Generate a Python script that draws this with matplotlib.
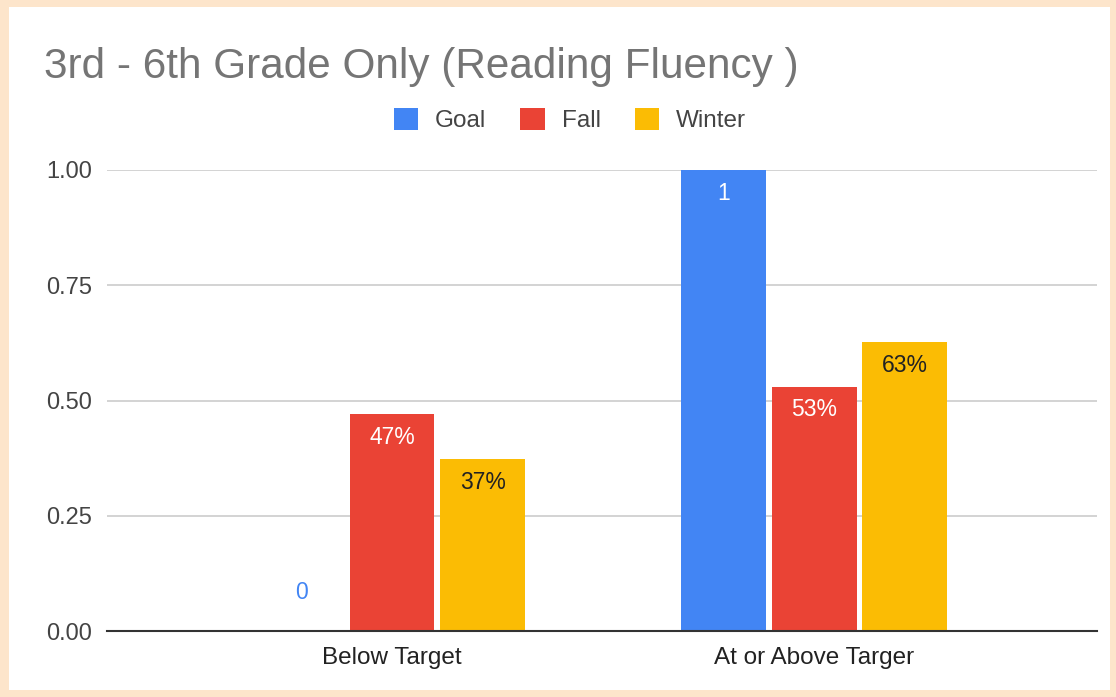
import matplotlib.pyplot as plt
import numpy as np
from matplotlib.patches import Rectangle, Patch

categories = ["Below Target", "At or Above Targer"]
series = ["Goal", "Fall", "Winter"]
goal = [0, 1]
fall = [0.47, 0.53]
winter = [0.373, 0.627]
labels_goal = ["0", "1"]
labels_fall = ["47%", "53%"]
labels_winter = ["37%", "63%"]
colors = ["#4285f4", "#ea4335", "#fbbc04"]

plt.rcParams["font.family"] = ["Liberation Sans", "DejaVu Sans"]

W, H = 1116, 697
fig = plt.figure(figsize=(W / 100, H / 100), dpi=100, facecolor="#fde5cb")
fig.patches.append(Rectangle((9 / W, 7 / H), (1110 - 9) / W, (690 - 7) / H,
                             transform=fig.transFigure, facecolor="white",
                             edgecolor="none", zorder=-1))

ax = fig.add_axes([107 / W, (H - 631) / H, (1097 - 107) / W, (631 - 170) / H])
ax.set_facecolor("none")
ax.set_zorder(2)

x = np.arange(len(categories))
width = 0.201
step = 0.215
data = [goal, fall, winter]
texts = [labels_goal, labels_fall, labels_winter]
txt_colors = ["white", "white", "#222222"]

for i, (vals, labs) in enumerate(zip(data, texts)):
    pos = x + (i - 1) * step
    ax.bar(pos, vals, width=width, color=colors[i], zorder=3)
    for p, v, lab in zip(pos, vals, labs):
        if v == 0:
            ax.text(p, 0.083, lab, ha="center", va="center", fontsize=16.5,
                    color=colors[0], zorder=4)
        else:
            ax.text(p, v - 0.05, lab, ha="center", va="center", fontsize=16.5,
                    color=txt_colors[i], zorder=4)

ax.set_xlim(-0.675, 1.67)
ax.set_ylim(0, 1.0)
ax.set_yticks([0, 0.25, 0.5, 0.75, 1.0])
ax.set_yticklabels(["0.00", "0.25", "0.50", "0.75", "1.00"])
ax.set_xticks(x)
ax.set_xticklabels(categories)
ax.tick_params(axis="both", length=0, colors="#444444")
ax.tick_params(axis="x", pad=11.5, labelsize=17.5, labelcolor="#222222")
ax.tick_params(axis="y", pad=10.8, labelsize=17)
ax.grid(axis="y", color="#cccccc", linewidth=1.2, zorder=0)
ax.set_axisbelow(True)
for s in ["top", "right", "left"]:
    ax.spines[s].set_visible(False)
ax.spines["bottom"].set_color("#333333")
ax.spines["bottom"].set_linewidth(1.5)
ax.spines["bottom"].set_zorder(5)

fig.text(44 / W, (H - 78) / H, "3rd - 6th Grade Only (Reading Fluency )",
         fontsize=30.4, color="#757575", ha="left", va="baseline")

handles = [Patch(facecolor=c, edgecolor="none") for c in colors]
fig.legend(handles, series, loc="center", bbox_to_anchor=(570 / W, (H - 120) / H),
           ncol=3, frameon=False, fontsize=17.5, handlelength=1.0, handleheight=1.0,
           handletextpad=0.7, columnspacing=1.4, labelcolor="#444444")

fig.savefig("out.png", dpi=100, facecolor=fig.get_facecolor())
